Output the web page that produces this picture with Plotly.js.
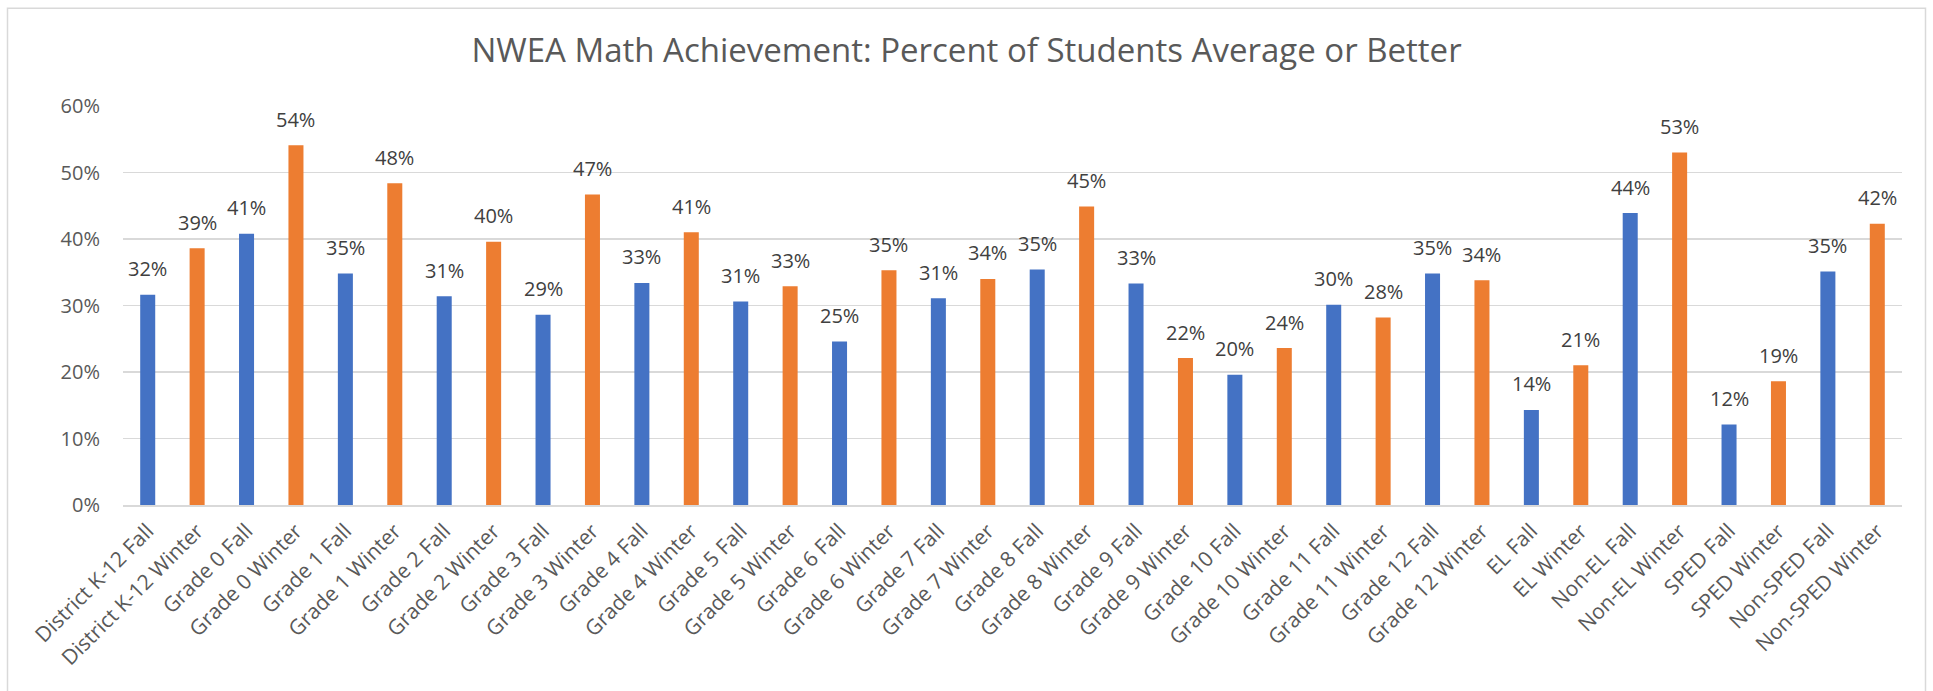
<!DOCTYPE html>
<html>
<head>
<meta charset="utf-8">
<script src="https://cdn.plot.ly/plotly-3.0.1.min.js"></script>
<style>
html, body { margin: 0; padding: 0; background: #ffffff; }
#chart { width: 1933px; height: 691px; }
</style>
</head>
<body>
<div id="chart"></div>
<script>
const categories = [
  "District K-12 Fall", "District K-12 Winter",
  "Grade 0 Fall", "Grade 0 Winter",
  "Grade 1 Fall", "Grade 1 Winter",
  "Grade 2 Fall", "Grade 2 Winter",
  "Grade 3 Fall", "Grade 3 Winter",
  "Grade 4 Fall", "Grade 4 Winter",
  "Grade 5 Fall", "Grade 5 Winter",
  "Grade 6 Fall", "Grade 6 Winter",
  "Grade 7 Fall", "Grade 7 Winter",
  "Grade 8 Fall", "Grade 8 Winter",
  "Grade 9 Fall", "Grade 9 Winter",
  "Grade 10 Fall", "Grade 10 Winter",
  "Grade 11 Fall", "Grade 11 Winter",
  "Grade 12 Fall", "Grade 12 Winter",
  "EL Fall", "EL Winter",
  "Non-EL Fall", "Non-EL Winter",
  "SPED Fall", "SPED Winter",
  "Non-SPED Fall", "Non-SPED Winter"
];

// Percent of students average or better
const percentValues = [
  31.6, 38.6,
  40.8, 54.1,
  34.8, 48.4,
  31.4, 39.6,
  28.6, 46.7,
  33.4, 41.0,
  30.6, 32.9,
  24.6, 35.3,
  31.1, 34.0,
  35.4, 44.9,
  33.3, 22.1,
  19.6, 23.6,
  30.1, 28.2,
  34.8, 33.8,
  14.3, 21.0,
  43.9, 53.0,
  12.1, 18.6,
  35.1, 42.3
];

const seasons = categories.map(c => c.endsWith("Winter") ? "Winter" : "Fall");
const seasonColors = { Fall: "#4472C4", Winter: "#ED7D31" };

const yValues = percentValues.map(v => v / 100);
const labelTexts = percentValues.map(v => Math.round(v) + "%");

const FONT = "Open Sans, Noto Sans, sans-serif";

const trace = {
  type: "bar",
  x: categories,
  y: yValues,
  marker: { color: seasons.map(s => seasonColors[s]) },
  hoverinfo: "x+y",
  showlegend: false
};

const annotations = categories.map((c, i) => ({
  x: c,
  y: yValues[i],
  xref: "x",
  yref: "y",
  text: labelTexts[i],
  showarrow: false,
  yanchor: "middle",
  xanchor: "center",
  yshift: 26,
  font: { family: FONT, size: 20, color: "#404040" }
}));

// plot area: x 123..1902, y 105.5..505.3
const pl = 123, pr = 1902, pt = 105.5, pb = 505.3;
const pw = pr - pl, ph = pb - pt;
const px = v => (v - pl) / pw;
const py = v => (pb - v) / ph;

const layout = {
  width: 1933,
  height: 691,
  margin: { l: pl, r: 1933 - pr, t: pt, b: 691 - pb, pad: 0 },
  paper_bgcolor: "#ffffff",
  plot_bgcolor: "#ffffff",
  bargap: 0.696,
  title: {
    text: "NWEA Math Achievement: Percent of Students Average or Better",
    font: { family: FONT, size: 33, color: "#595959" },
    x: 0.5,
    xref: "container",
    xanchor: "center",
    y: 1 - 50 / 691,
    yref: "container",
    yanchor: "middle"
  },
  xaxis: {
    type: "category",
    tickangle: -45,
    tickfont: { family: FONT, size: 21, color: "#595959" },
    showgrid: false,
    showline: true,
    linecolor: "#d9d9d9",
    linewidth: 1.5,
    ticks: "",
    ticklabelstandoff: 4,
    automargin: false,
    fixedrange: true
  },
  yaxis: {
    range: [0, 0.6],
    dtick: 0.1,
    tick0: 0,
    tickformat: ".0%",
    tickfont: { family: FONT, size: 20, color: "#595959" },
    showgrid: true,
    gridcolor: "#d9d9d9",
    gridwidth: 1.5,
    zeroline: false,
    showline: false,
    ticks: "",
    ticklabelstandoff: 22,
    automargin: false,
    fixedrange: true
  },
  annotations: annotations,
  shapes: [{
    type: "rect",
    xref: "paper",
    yref: "paper",
    x0: px(7.5),
    x1: px(1925.5),
    y0: py(700),
    y1: py(7.5),
    line: { color: "#d9d9d9", width: 1.5 },
    fillcolor: "rgba(0,0,0,0)",
    layer: "below"
  }]
};

Plotly.newPlot("chart", [trace], layout, { displayModeBar: false, staticPlot: true });
</script>
</body>
</html>
